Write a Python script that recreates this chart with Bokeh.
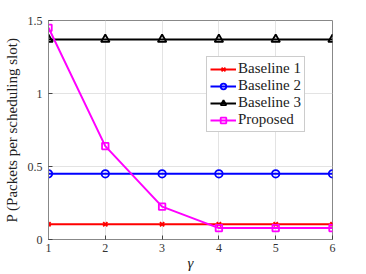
from bokeh.plotting import figure
from bokeh.models import FixedTicker, Legend, LegendItem
from bokeh.embed import file_html
from bokeh.resources import INLINE

gamma = [1, 2, 3, 4, 5, 6]
baseline1 = [0.105, 0.105, 0.105, 0.105, 0.105, 0.105]
baseline2 = [0.45, 0.45, 0.45, 0.45, 0.45, 0.45]
baseline3 = [1.37, 1.37, 1.37, 1.37, 1.37, 1.37]
proposed = [1.45, 0.64, 0.225, 0.078, 0.078, 0.078]
y_ticks = [0, 0.5, 1, 1.5]
y_tick_labels = {0: "0", 0.5: "0.5", 1: "1", 1.5: "1.5"}

FONT = "Liberation Serif"

p = figure(frame_width=284, frame_height=219, x_range=(1, 6), y_range=(0, 1.5),
           output_backend="svg", toolbar_location=None,
           min_border_left=47, min_border_top=20, min_border_right=27, min_border_bottom=34)
p.outline_line_color = "#888888"
p.outline_line_width = 1

for ax in (p.xaxis[0], p.yaxis[0]):
    ax.major_tick_in = 4
    ax.major_tick_out = 0
    ax.minor_tick_in = 0
    ax.minor_tick_out = 0
    ax.axis_line_color = "#888888"
    ax.major_tick_line_color = "#444444"
    ax.major_label_text_font = FONT
    ax.major_label_text_font_size = "12px"
    ax.major_label_text_color = "#333333"
    ax.axis_label_text_font = FONT
    ax.axis_label_text_color = "#222222"

p.xaxis.ticker = FixedTicker(ticks=gamma)
p.yaxis.ticker = FixedTicker(ticks=y_ticks)
p.yaxis.major_label_overrides = y_tick_labels
p.xaxis.major_label_standoff = 4
p.yaxis.major_label_standoff = 6

p.xaxis.axis_label = "γ"
p.xaxis.axis_label_text_font_style = "italic"
p.xaxis.axis_label_text_font_size = "15px"
p.xaxis.axis_label_standoff = 0
p.yaxis.axis_label = "P (Packets per scheduling slot)"
p.yaxis.axis_label_text_font_style = "normal"
p.yaxis.axis_label_text_font_size = "15px"
p.yaxis.axis_label_standoff = 5

p.xgrid.grid_line_color = "#e3e3e3"
p.ygrid.grid_line_color = "#e3e3e3"

items = []
l1 = p.line(gamma, baseline1, color="red", line_width=2)
m1 = p.scatter(gamma, baseline1, marker="x", size=6, line_color="red", line_width=1.8)
items.append(LegendItem(label="Baseline 1", renderers=[l1, m1]))
l2 = p.line(gamma, baseline2, color="blue", line_width=2)
m2 = p.scatter(gamma, baseline2, marker="circle", size=7.5, line_color="blue", fill_color=None, line_width=1.8)
items.append(LegendItem(label="Baseline 2", renderers=[l2, m2]))
l3 = p.line(gamma, baseline3, color="black", line_width=2)
m3 = p.scatter(gamma, baseline3, marker="triangle", size=8.5, line_color="black", fill_color=None, line_width=1.8)
items.append(LegendItem(label="Baseline 3", renderers=[l3, m3]))
l4 = p.line(gamma, proposed, color="magenta", line_width=2)
m4 = p.scatter(gamma, proposed, marker="square", size=6.5, line_color="magenta", fill_color=None, line_width=1.8)
items.append(LegendItem(label="Proposed", renderers=[l4, m4]))

legend = Legend(items=items, location=(158, 107))
legend.label_text_font = FONT
legend.label_text_font_size = "15px"
legend.label_text_color = "#222222"
legend.glyph_width = 26
legend.glyph_height = 14
legend.label_height = 14
legend.spacing = 0
legend.padding = 3
legend.margin = 0
legend.label_standoff = 2
legend.border_line_color = "#999999"
legend.background_fill_alpha = 1
p.add_layout(legend, "center")

open("out.html", "w").write(file_html(p, INLINE))
